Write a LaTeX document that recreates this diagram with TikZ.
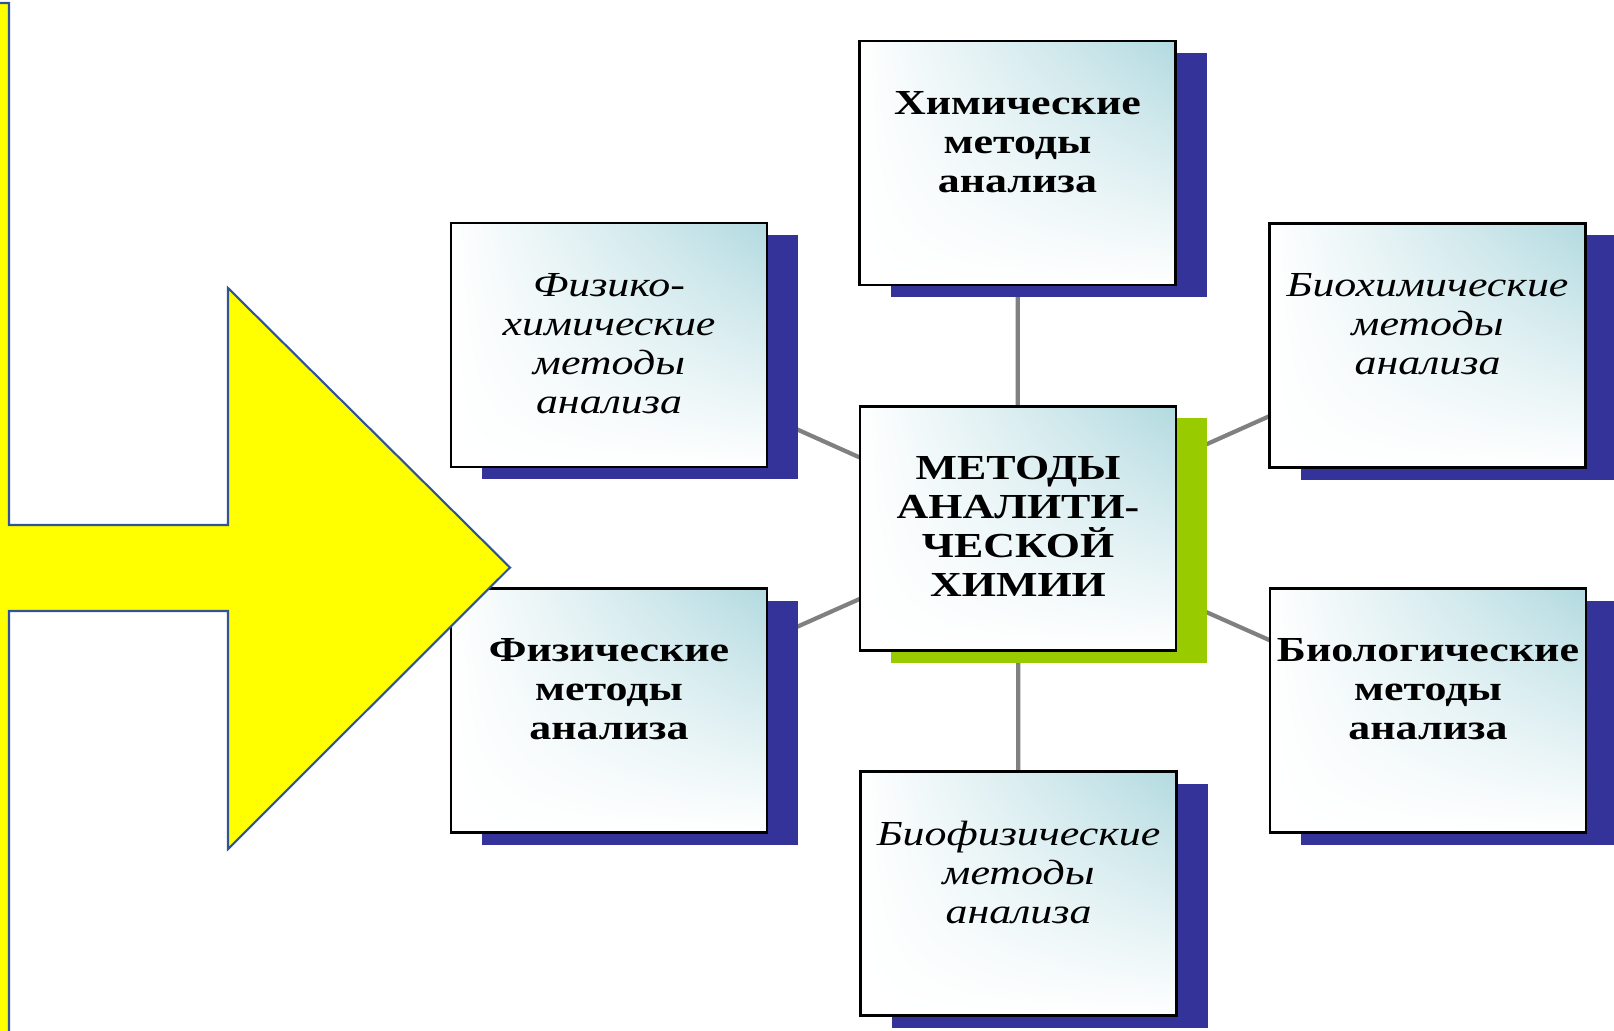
\documentclass[tikz,border=0pt]{standalone}
\usepackage{fontspec}
\setmainfont{Liberation Serif}[FakeStretch=1.25]
\usetikzlibrary{shadows,shadings,backgrounds}

\definecolor{boxteal}{RGB}{178,218,224}
\definecolor{shadeblue}{RGB}{51,51,153}
\definecolor{shadegreen}{RGB}{153,204,0}
\definecolor{linkgray}{RGB}{128,128,128}
\definecolor{arrowyellow}{RGB}{255,255,0}
\definecolor{arrowedge}{RGB}{47,85,151}

\newcommand{\methtext}[1]{\parbox[c][1.44cm][t]{3.16cm}{\centering #1}}

\tikzset{
  methbox/.style={rectangle, draw=black, line width=0.8pt, inner sep=0pt,
    minimum width=3.16cm, minimum height=2.44cm, shade,
    upper right=boxteal, upper left=white, lower left=white, lower right=white,
    font=\fontsize{10pt}{11.1pt}\selectfont,
    drop shadow={shadow xshift=0.31cm, shadow yshift=-0.12cm, fill=#1, opacity=1}},
  methbox/.default=shadeblue,
  link/.style={draw=linkgray, line width=1.2pt}
}

\begin{document}
\begin{tikzpicture}
  \useasboundingbox (0,0) rectangle (16.14,-10.31);

  % Centre box and the six kinds of methods round it
  \node[methbox=shadegreen] (meth) at (10.18,-5.285)
    {\methtext{\bfseries МЕТОДЫ\\АНАЛИТИ-\\ЧЕСКОЙ\\ХИМИИ}};
  \node[methbox] (chem) at (10.175,-1.63)
    {\methtext{\bfseries Химические\\методы\\анализа}};
  \node[methbox] (physchem) at (6.09,-3.45)
    {\methtext{\itshape Физико-\\химические\\методы\\анализа}};
  \node[methbox] (biochem) at (14.275,-3.455)
    {\methtext{\itshape Биохимические\\методы\\анализа}};
  \node[methbox] (phys) at (6.09,-7.105)
    {\methtext{\bfseries Физические\\методы\\анализа}};
  \node[methbox] (biol) at (14.28,-7.105)
    {\methtext{\bfseries Биологические\\методы\\анализа}};
  \node[methbox] (biophys) at (10.185,-8.935)
    {\methtext{\itshape Биофизические\\методы\\анализа}};

  % Spokes, behind the boxes and their shadows
  \begin{scope}[on background layer]
    \foreach \m in {chem,physchem,biochem,phys,biol,biophys}
      \draw[link] (meth.center) -- (\m.center);
  \end{scope}

  % Yellow arrow on the left
  \draw[fill=arrowyellow, draw=arrowedge, line width=0.6pt]
    (-0.2,-0.03) -- (0.09,-0.03) -- (0.09,-5.25) -- (2.28,-5.25)
    -- (2.28,-2.88) -- (5.10,-5.675) -- (2.28,-8.49) -- (2.28,-6.11)
    -- (0.09,-6.11) -- (0.09,-10.6) -- (-0.2,-10.6) -- cycle;
\end{tikzpicture}
\end{document}
